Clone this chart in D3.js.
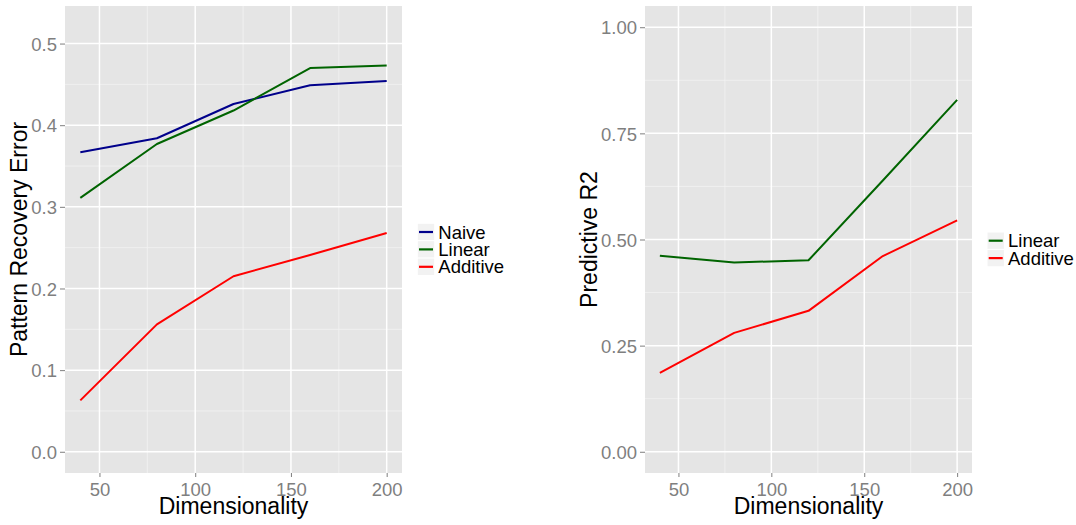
<!DOCTYPE html>
<html>
<head>
<meta charset="utf-8">
<script src="https://cdn.jsdelivr.net/npm/d3@7"></script>
<style>
  html, body { margin: 0; padding: 0; background: #fff; }
  svg { display: block; font-family: "Liberation Sans", Arial, Helvetica, sans-serif; }
</style>
</head>
<body>
<svg id="chart" width="1076" height="525"></svg>
<script>
// Dimensionality levels shared by both panels
const dims = [40, 80, 120, 160, 200];

// Left panel: pattern recovery error
const naiveError    = [0.367, 0.384, 0.426, 0.449, 0.454];
const linearError   = [0.311, 0.377, 0.418, 0.470, 0.473];
const additiveError = [0.063, 0.156, 0.215, 0.241, 0.268];

// Right panel: predictive R2
const linearR2   = [0.462, 0.446, 0.451, 0.639, 0.829];
const additiveR2 = [0.186, 0.280, 0.332, 0.461, 0.545];

const xTicks = [50, 100, 150, 200];
const xMinor = [75, 125, 175];
const leftYTicks = [0.0, 0.1, 0.2, 0.3, 0.4, 0.5];
const leftYMinor = [0.05, 0.15, 0.25, 0.35, 0.45];
const rightYTicks = [0.00, 0.25, 0.50, 0.75, 1.00];
const rightYMinor = [0.125, 0.375, 0.625, 0.875];

const colors = { Naive: "#00008B", Linear: "#006400", Additive: "#FF0000" };

const svg = d3.select("#chart");

function panel(opts) {
  const { x0, x1, y0, y1, yDomain, yTicks, yMinor, yFmt, series, yTitle, yTitleX, legendX, legendY } = opts;
  const x = d3.scaleLinear().domain([32, 208]).range([x0, x1]);
  const y = d3.scaleLinear().domain(yDomain).range([y1, y0]);
  const g = svg.append("g");

  // panel background
  g.append("rect").attr("x", x0).attr("y", y0)
    .attr("width", x1 - x0).attr("height", y1 - y0).attr("fill", "#E5E5E5");

  // minor grid
  g.selectAll(".ymin").data(yMinor).enter().append("line")
    .attr("x1", x0).attr("x2", x1).attr("y1", d => y(d)).attr("y2", d => y(d))
    .attr("stroke", "#F2F2F2").attr("stroke-width", 0.8);
  g.selectAll(".xmin").data(xMinor).enter().append("line")
    .attr("y1", y0).attr("y2", y1).attr("x1", d => x(d)).attr("x2", d => x(d))
    .attr("stroke", "#F2F2F2").attr("stroke-width", 0.8);

  // major grid
  g.selectAll(".ymaj").data(yTicks).enter().append("line")
    .attr("x1", x0).attr("x2", x1).attr("y1", d => y(d)).attr("y2", d => y(d))
    .attr("stroke", "#FFFFFF").attr("stroke-width", 1.5);
  g.selectAll(".xmaj").data(xTicks).enter().append("line")
    .attr("y1", y0).attr("y2", y1).attr("x1", d => x(d)).attr("x2", d => x(d))
    .attr("stroke", "#FFFFFF").attr("stroke-width", 1.5);

  // axes
  const yAxis = d3.axisLeft(y).tickValues(yTicks).tickFormat(yFmt).tickSize(5).tickPadding(3);
  const ya = g.append("g").attr("transform", `translate(${x0},0)`).call(yAxis);
  const xAxis = d3.axisBottom(x).tickValues(xTicks).tickFormat(d3.format("d")).tickSize(4).tickPadding(4);
  const xa = g.append("g").attr("transform", `translate(0,${y1})`).call(xAxis);
  [ya, xa].forEach(a => {
    a.select(".domain").remove();
    a.selectAll(".tick line").attr("stroke", "#7F7F7F").attr("stroke-width", 1);
    a.selectAll(".tick text").attr("fill", "#7F7F7F").style("font-size", "18.5px")
      .style("font-family", "'Liberation Sans', Arial, sans-serif");
  });
  xa.selectAll(".tick text").attr("dy", null).attr("y", 23);
  ya.selectAll(".tick text").attr("dy", "0.36em");

  // lines
  const line = d3.line().x((d, i) => x(dims[i])).y(d => y(d));
  series.forEach(s => {
    g.append("path").datum(s.values).attr("d", line)
      .attr("fill", "none").attr("stroke", colors[s.name]).attr("stroke-width", 2)
      .attr("stroke-linejoin", "round");
  });

  // axis titles
  g.append("text").attr("x", (x0 + x1) / 2).attr("y", 514)
    .attr("text-anchor", "middle").style("font-size", "23px").attr("fill", "#000")
    .text("Dimensionality");
  g.append("text").attr("transform", `translate(${yTitleX},${(y0 + y1) / 2}) rotate(-90)`)
    .attr("text-anchor", "middle").style("font-size", "23px").attr("fill", "#000")
    .text(yTitle);

  // legend
  const rowH = 17.4;
  const lg = g.append("g").attr("transform", `translate(${legendX},${legendY})`);
  series.forEach((s, i) => {
    const r = lg.append("g").attr("transform", `translate(0,${i * rowH})`);
    r.append("rect").attr("width", 17.4).attr("height", rowH)
      .attr("fill", "#F2F2F2").attr("stroke", "#FFFFFF").attr("stroke-width", 1);
    r.append("line").attr("x1", 1.7).attr("x2", 15.7).attr("y1", rowH / 2).attr("y2", rowH / 2)
      .attr("stroke", colors[s.name]).attr("stroke-width", 2.2);
    r.append("text").attr("x", 21).attr("y", rowH / 2 + 6.5)
      .style("font-size", "18.5px").attr("fill", "#000").text(s.name);
  });
}

panel({
  x0: 65, x1: 402, y0: 6, y1: 473,
  yDomain: [-0.026, 0.546],
  yTicks: leftYTicks, yMinor: leftYMinor, yFmt: d3.format(".1f"),
  series: [
    { name: "Naive", values: naiveError },
    { name: "Linear", values: linearError },
    { name: "Additive", values: additiveError }
  ],
  yTitle: "Pattern Recovery Error", yTitleX: 26.5,
  legendX: 417.3, legendY: 223.3
});

panel({
  x0: 645, x1: 972, y0: 6, y1: 473,
  yDomain: [-0.05, 1.05],
  yTicks: rightYTicks, yMinor: rightYMinor, yFmt: d3.format(".2f"),
  series: [
    { name: "Linear", values: linearR2 },
    { name: "Additive", values: additiveR2 }
  ],
  yTitle: "Predictive R2", yTitleX: 597,
  legendX: 987, legendY: 232
});
</script>
</body>
</html>
